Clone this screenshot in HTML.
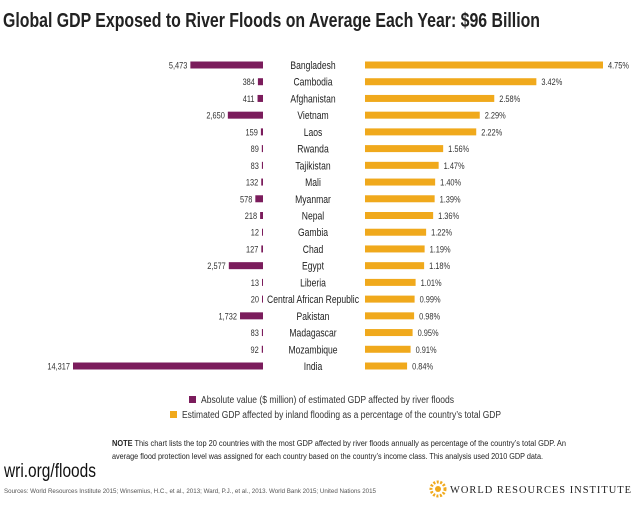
<!DOCTYPE html>
<html><head><meta charset="utf-8"><style>
body{margin:0;background:#fff;}
svg text{font-family:"Liberation Sans Narrow","Liberation Sans",sans-serif;}
</style></head><body>
<svg id="c" width="637" height="502" xmlns="http://www.w3.org/2000/svg">
<text x="3" y="27" font-size="20" font-weight="bold" fill="#222" textLength="537" lengthAdjust="spacingAndGlyphs">Global GDP Exposed to River Floods on Average Each Year: $96 Billion</text>
<g id="bars"></g>
<rect x="189" y="396" width="7" height="7" fill="#7b1c5c"/>
<text x="201" y="403" font-size="10" fill="#333" textLength="253" lengthAdjust="spacingAndGlyphs">Absolute value ($ million) of estimated GDP affected by river floods</text>
<rect x="170" y="411" width="7" height="7" fill="#f0a91c"/>
<text x="182" y="418" font-size="10" fill="#333" textLength="319" lengthAdjust="spacingAndGlyphs">Estimated GDP affected by inland flooding as a percentage of the country’s total GDP</text>
<text x="112" y="446" font-size="8" fill="#222" textLength="454" lengthAdjust="spacingAndGlyphs"><tspan font-weight="bold">NOTE</tspan> This chart lists the top 20 countries with the most GDP affected by river floods annually as percentage of the country’s total GDP. An</text>
<text x="112" y="459" font-size="8" fill="#222" textLength="431" lengthAdjust="spacingAndGlyphs">average flood protection level was assigned for each country based on the country’s income class. This analysis used 2010 GDP data.</text>
<text x="4" y="477" font-size="19" fill="#111" textLength="92" lengthAdjust="spacingAndGlyphs">wri.org/floods</text>
<text x="4" y="493" font-size="6.5" fill="#555" textLength="372" lengthAdjust="spacingAndGlyphs">Sources: World Resources Institute 2015; Winsemius, H.C., et al., 2013; Ward, P.J., et al., 2013. World Bank 2015; United Nations 2015</text>
<g>
<circle cx="438" cy="489" r="7" fill="none" stroke="#f0a91c" stroke-width="3" stroke-dasharray="2 1.5"/>
<circle cx="438" cy="489" r="3" fill="#f0a91c"/>
<text x="450" y="493" font-size="10.5" fill="#222" textLength="182" lengthAdjust="spacingAndGlyphs" style="font-family:'Liberation Serif',serif;letter-spacing:1px">WORLD RESOURCES INSTITUTE</text>
</g>
</svg>
<script>
const countries=["Bangladesh","Cambodia","Afghanistan","Vietnam","Laos","Rwanda","Tajikistan","Mali","Myanmar","Nepal","Gambia","Chad","Egypt","Liberia","Central African Republic","Pakistan","Madagascar","Mozambique","India"];
const absValues=[5473,384,411,2650,159,89,83,132,578,218,12,127,2577,13,20,1732,83,92,14317];
const absLabels=["5,473","384","411","2,650","159","89","83","132","578","218","12","127","2,577","13","20","1,732","83","92","14,317"];
const pctValues=[4.75,3.42,2.58,2.29,2.22,1.56,1.47,1.40,1.39,1.36,1.22,1.19,1.18,1.01,0.99,0.98,0.95,0.91,0.84];
const pctLabels=["4.75%","3.42%","2.58%","2.29%","2.22%","1.56%","1.47%","1.40%","1.39%","1.36%","1.22%","1.19%","1.18%","1.01%","0.99%","0.98%","0.95%","0.91%","0.84%"];
const NS="http://www.w3.org/2000/svg";
const g=document.getElementById('bars');
const y0=65, step=(366-65)/18, bh=7, sx=0.78;
const yPos=i=>y0+i*step;
const absW=v=>v*190/14317;
const pctW=v=>v*238/4.75;
function mk(tag,attrs){const e=document.createElementNS(NS,tag);for(const k in attrs)e.setAttribute(k,attrs[k]);g.appendChild(e);return e;}
function txt(x,y,size,anchor,s){const e=mk('text',{x:0,y:0,'font-size':size,fill:'#333','text-anchor':anchor,transform:'translate('+x+','+y+') scale('+sx+',1)'});e.textContent=s;return e;}
countries.forEach((c,i)=>{
  const y=yPos(i);
  const w1=Math.max(absW(absValues[i]),1);
  const r1=mk('rect',{x:263-w1,y:y-bh/2,width:w1,height:bh,fill:'#7b1c5c'});
  
  
  const t1=txt(263-w1-3,y+3.5,9.5,'end',absLabels[i]);
  
  
  const t2=txt(313,y+4,11,'middle',c);
  t2.setAttribute('fill','#222');
  
  
  const w2=pctW(pctValues[i]);
  const r2=mk('rect',{x:365,y:y-bh/2,width:w2,height:bh,fill:'#f0a91c'});
  
  
  const t3=txt(365+w2+5,y+3.5,9.5,'start',pctLabels[i]);
  
  
});
</script>
</body></html>
